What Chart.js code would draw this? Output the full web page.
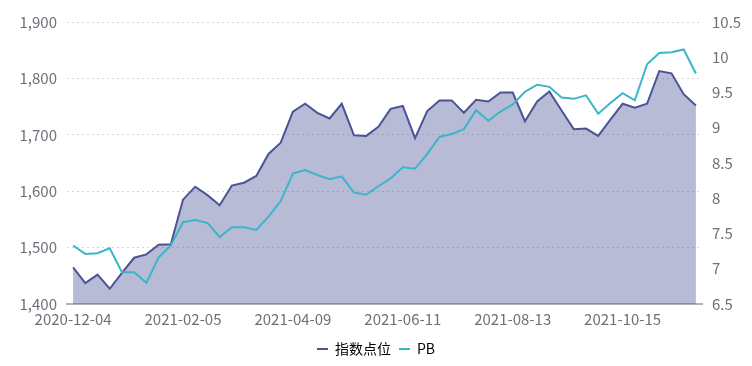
<!DOCTYPE html>
<html>
<head>
<meta charset="utf-8">
<script src="https://cdn.jsdelivr.net/npm/chart.js@4/dist/chart.umd.min.js"></script>
<style>
    html, body { margin: 0; padding: 0; background: #fff; }
    #wrap { width: 752px; height: 366px; }
</style>
</head>
<body>
<div id="wrap"><canvas id="grafico"></canvas></div>
<script>
const fechas = [
    "2020-12-04","2020-12-11","2020-12-18","2020-12-25","2021-01-01","2021-01-08","2021-01-15","2021-01-22","2021-01-29",
    "2021-02-05","2021-02-12","2021-02-19","2021-02-26","2021-03-05","2021-03-12","2021-03-19","2021-03-26","2021-04-02",
    "2021-04-09","2021-04-16","2021-04-23","2021-04-30","2021-05-07","2021-05-14","2021-05-21","2021-05-28","2021-06-04",
    "2021-06-11","2021-06-18","2021-06-25","2021-07-02","2021-07-09","2021-07-16","2021-07-23","2021-07-30","2021-08-06",
    "2021-08-13","2021-08-20","2021-08-27","2021-09-03","2021-09-10","2021-09-17","2021-09-24","2021-10-01","2021-10-08",
    "2021-10-15","2021-10-22","2021-10-29","2021-11-05","2021-11-12","2021-11-19","2021-11-26"
];
const indice = [
    1465, 1437, 1452, 1427, 1455, 1482, 1488, 1505, 1506,
    1585, 1608, 1593, 1575, 1610, 1615, 1627, 1666, 1686,
    1741, 1755, 1739, 1729, 1755, 1699, 1698, 1714, 1746,
    1751, 1694, 1742, 1761, 1761, 1739, 1762, 1759, 1775,
    1775, 1724, 1759, 1777, 1743, 1710, 1711, 1698, 1727,
    1755, 1748, 1755, 1813, 1809, 1772, 1752
];
const pb = [
    7.33, 7.21, 7.22, 7.29, 6.95, 6.95, 6.80, 7.16, 7.33,
    7.66, 7.69, 7.65, 7.45, 7.59, 7.59, 7.55, 7.74, 7.96,
    8.35, 8.40, 8.33, 8.27, 8.31, 8.08, 8.05, 8.17, 8.28,
    8.44, 8.42, 8.63, 8.87, 8.91, 8.98, 9.25, 9.10, 9.23,
    9.33, 9.51, 9.61, 9.58, 9.43, 9.41, 9.46, 9.20, 9.35,
    9.49, 9.39, 9.90, 10.06, 10.07, 10.11, 9.77
];
const paso = 9;

const fuente = "'Noto Sans CJK SC', 'Noto Sans', sans-serif";
Chart.defaults.font.family = fuente;
Chart.defaults.color = "#6e7079";

const config = {
    type: "line",
    data: {
        labels: fechas,
        datasets: [
            {
                label: "指数点位",
                data: indice,
                yAxisID: "y",
                borderColor: "#4a5496",
                backgroundColor: "rgba(75,85,152,0.4)",
                borderWidth: 2,
                fill: "start",
                pointRadius: 0,
                tension: 0,
                order: 2
            },
            {
                label: "PB",
                data: pb,
                yAxisID: "y1",
                borderColor: "#3bb5c9",
                backgroundColor: "#3bb5c9",
                borderWidth: 2,
                fill: false,
                pointRadius: 0,
                tension: 0,
                order: 1
            }
        ]
    },
    options: {
        responsive: true,
        maintainAspectRatio: false,
        animation: false,
        layout: { padding: { top: 22, left: 0, right: 0, bottom: 0 } },
        plugins: {
            tooltip: { enabled: false },
            legend: {
                position: "bottom",
                labels: {
                    boxWidth: 11,
                    boxHeight: 2,
                    padding: 8,
                    font: { size: 14 },
                    color: "#666",
                    generateLabels: function(chart) {
                        return chart.data.datasets.map((d, i) => ({
                            text: d.label,
                            fillStyle: d.borderColor,
                            strokeStyle: d.borderColor,
                            lineWidth: 0,
                            datasetIndex: i,
                            hidden: false
                        }));
                    }
                }
            }
        },
        scales: {
            x: {
                offset: true,
                grid: { display: false, drawTicks: false },
                border: { display: true, color: "#b3b3b3", width: 2 },
                ticks: {
                    autoSkip: false,
                    maxRotation: 0,
                    padding: 6,
                    font: { size: 15 },
                    callback: function(v, i) {
                        return i % paso === 0 ? fechas[i] : null;
                    }
                },
                afterFit: function(s) { s.height = 30; }
            },
            y: {
                position: "left",
                min: 1400,
                max: 1900,
                ticks: {
                    stepSize: 100,
                    padding: 10,
                    font: { size: 15 },
                    callback: v => v.toLocaleString("en-US")
                },
                grid: { color: "#d6d6d6", drawTicks: false },
                border: { display: false, dash: [2, 3] },
                afterFit: function(s) { s.width = 67; }
            },
            y1: {
                position: "right",
                min: 6.5,
                max: 10.5,
                ticks: {
                    stepSize: 0.5,
                    padding: 10,
                    font: { size: 15 },
                    callback: v => String(v)
                },
                grid: { display: false, drawTicks: false },
                border: { display: false },
                afterFit: function(s) { s.width = 50; }
            }
        }
    }
};

new Chart(document.getElementById("grafico").getContext("2d"), config);
</script>
</body>
</html>
